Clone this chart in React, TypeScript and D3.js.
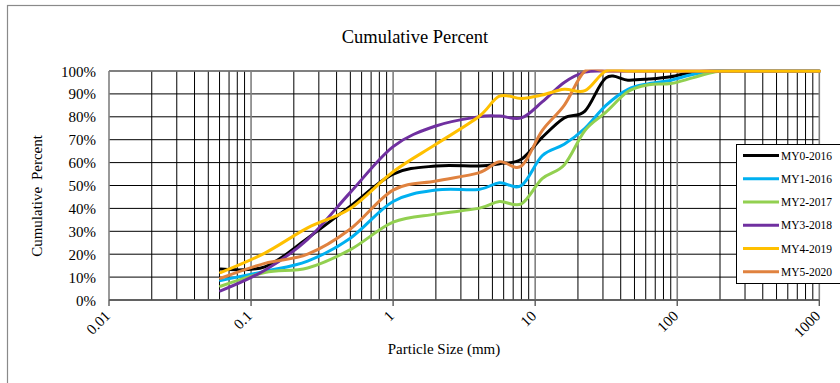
import React from "react";
import * as d3 from "d3";

const sizes = [0.061, 0.125, 0.25, 0.5, 1, 2, 4, 5.6, 8, 11.2, 16, 22.4, 31.5, 45, 63, 90, 128, 180, 256, 1000];
const seriesNames = ["MY0-2016", "MY1-2016", "MY2-2017", "MY3-2018", "MY4-2019", "MY5-2020"];
const my0 = [13.5, 14.5, 27, 41, 55, 58.5, 58.5, 59.5, 61.5, 71, 79.5, 82.5, 97, 96, 96.5, 97.5, 99.5, 100, 100, 100];
const my1 = [8.5, 12.5, 17, 27, 43, 48, 48.3, 51.2, 50, 63, 68, 75, 85, 92, 94.5, 96, 98.5, 100, 100, 100];
const my2 = [6, 12, 14, 22, 34, 37.5, 40, 43, 42, 53, 59, 74, 82, 91, 94, 94.5, 97, 99.5, 100, 100];
const my3 = [4, 13, 26.5, 47, 67, 76, 80, 80.3, 79.5, 86.5, 95, 99.5, 100, 100, 100, 100, 100, 100, 100, 100];
const my4 = [12, 20.5, 31.5, 40, 56, 68, 80, 89, 88, 89.5, 92, 91.4, 100, 100, 100, 100, 100, 100, 100, 100];
const my5 = [9.5, 16, 20, 31, 48, 52, 55.5, 60.4, 58.5, 74, 85, 100, 100, 100, 100, 100, 100, 100, 100, 100];
const seriesValues = [my0, my1, my2, my3, my4, my5];
const seriesColors = ["#000000", "#00B0F0", "#92D050", "#7030A0", "#FFC000", "#E0823F"];
const drawOrder = [0, 1, 2, 3, 5, 4];
const xTicks = [0.01, 0.1, 1, 10, 100, 1000];
const yTicks = [0, 10, 20, 30, 40, 50, 60, 70, 80, 90, 100];

const FONT = "'Liberation Serif', 'Times New Roman', serif";

export default function App() {
  const left = 109, right = 819.3, top = 71, bottom = 300;
  const x = d3.scaleLog().domain([0.01, 1000]).range([left, right]);
  const y = d3.scaleLinear().domain([0, 100]).range([bottom, top]);
  const line = d3
    .line<number>()
    .x((_, i) => x(sizes[i]))
    .y((v) => y(v))
    .curve(d3.curveCardinal.tension(0));

  const minor: number[] = [];
  for (let e = -2; e < 3; e++) {
    for (let k = 2; k <= 9; k++) minor.push(k * Math.pow(10, e));
  }

  return (
    <svg
      width={840}
      height={383}
      style={{ position: "absolute", left: 0, top: 0, background: "#fff" }}
      fontFamily={FONT}
    >
      <defs>
        <clipPath id="plotClip">
          <rect x={left} y={top - 1.6} width={right - left + 2} height={bottom - top + 3} />
        </clipPath>
      </defs>
      <rect x={0} y={0} width={840} height={383} fill="#fff" />
      <rect x={7.5} y={5.5} width={850} height={400} fill="none" stroke="#8a8a8a" strokeWidth={1.2} />
      <text x={415} y={43} textAnchor="middle" fontSize={18.5} fill="#000">
        Cumulative Percent
      </text>
      {yTicks.map((t) => (
        <line key={"h" + t} x1={left} x2={right} y1={y(t)} y2={y(t)} stroke="#000" strokeWidth={1} />
      ))}
      {minor.map((m) => (
        <line key={"m" + m} x1={x(m)} x2={x(m)} y1={top} y2={bottom} stroke="#000" strokeWidth={1} />
      ))}
      {xTicks.map((t) => (
        <line key={"M" + t} x1={x(t)} x2={x(t)} y1={top} y2={bottom} stroke="#808080" strokeWidth={1.6} />
      ))}
      <line x1={left} x2={right} y1={top} y2={top} stroke="#808080" strokeWidth={1.6} />
      <line x1={left} x2={right} y1={bottom} y2={bottom} stroke="#595959" strokeWidth={1.6} />
      {xTicks.map((t) => (
        <line key={"t" + t} x1={x(t)} x2={x(t)} y1={bottom} y2={bottom + 6} stroke="#595959" strokeWidth={1.4} />
      ))}
      <g clipPath="url(#plotClip)">
        {drawOrder.map((i) => (
          <path
            key={"s" + i}
            d={line(seriesValues[i]) || ""}
            fill="none"
            stroke={seriesColors[i]}
            strokeWidth={3}
            strokeLinejoin="round"
            strokeLinecap="round"
          />
        ))}
      </g>
      {yTicks.map((t) => (
        <text key={"yl" + t} x={96} y={y(t) + 5.5} textAnchor="end" fontSize={15} fill="#000">
          {t + "%"}
        </text>
      ))}
      {xTicks.map((t) => (
        <text
          key={"xl" + t}
          transform={`translate(${x(t) + 2},${bottom + 17}) rotate(-45)`}
          textAnchor="end"
          fontSize={15}
          fill="#000"
        >
          {String(t)}
        </text>
      ))}
      <text x={444} y={354} textAnchor="middle" fontSize={15} fill="#000">
        Particle Size (mm)
      </text>
      <text
        transform={`translate(41.5,196) rotate(-90)`}
        textAnchor="middle"
        fontSize={15}
        fill="#000"
        style={{ wordSpacing: "3px" }}
      >
        Cumulative Percent
      </text>
      <rect x={736.5} y={144.5} width={120} height={139} fill="#fff" stroke="#000" strokeWidth={1} />
      {seriesNames.map((n, i) => {
        const ly = 155.5 + i * 23.25;
        return (
          <g key={"lg" + i}>
            <line x1={743} x2={779} y1={ly} y2={ly} stroke={seriesColors[i]} strokeWidth={3} />
            <text x={781} y={ly + 4} fontSize={11.5} fill="#000">
              {n}
            </text>
          </g>
        );
      })}
    </svg>
  );
}
